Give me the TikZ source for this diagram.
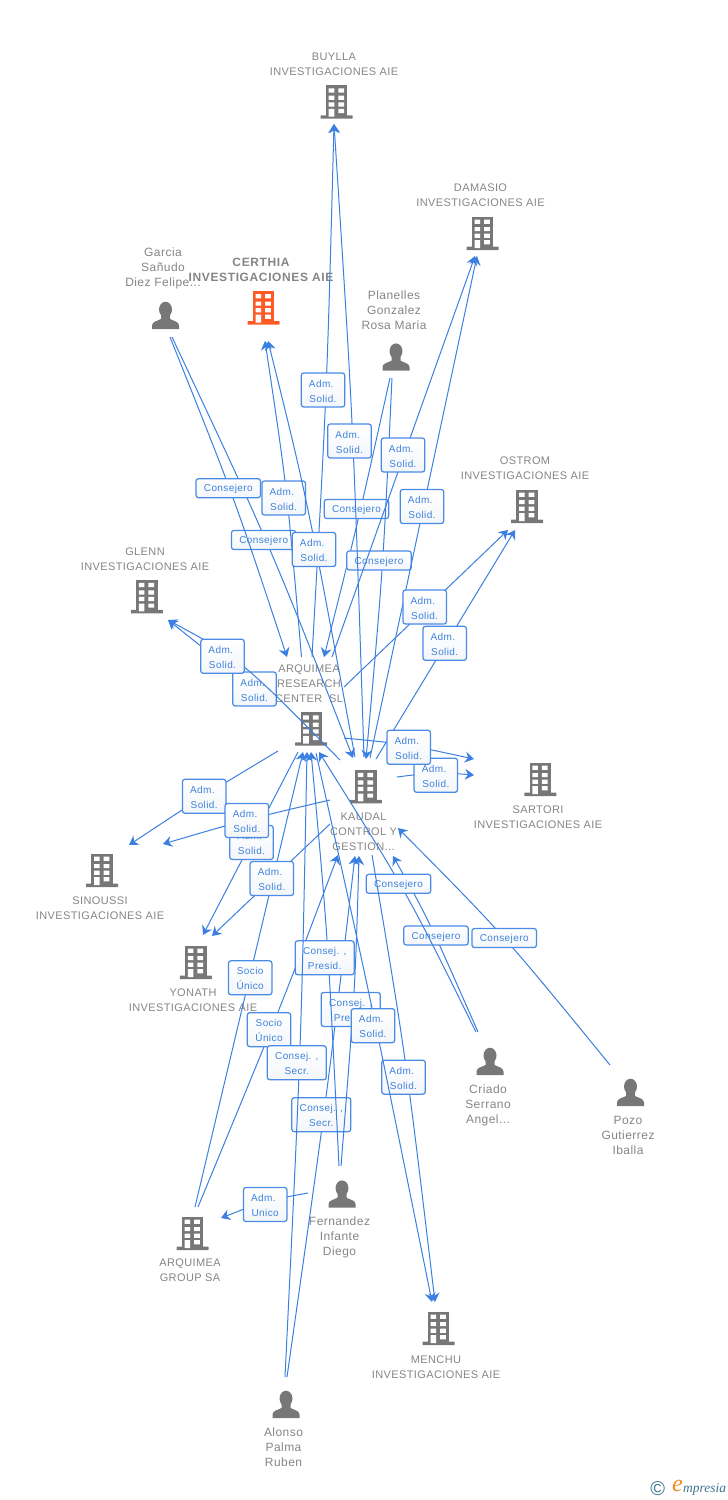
\documentclass[tikz,border=0pt]{standalone}
\usepackage{fontspec}
\usetikzlibrary{arrows.meta,calc}
\setmainfont{Liberation Sans}
\newfontfamily\greyfont[LetterSpace=3.6]{Liberation Sans}
\newfontfamily\personfont[LetterSpace=3.8]{Liberation Sans}
\newfontfamily\boldgreyfont[LetterSpace=5.2,BoldFont={Liberation Sans Bold}]{Liberation Sans}
\newfontfamily\bluefont[LetterSpace=4]{Liberation Sans}
\newfontfamily\logofont{Liberation Serif}
\definecolor{linkblue}{HTML}{3B7FE0}
\definecolor{boxblue}{HTML}{4A8BE6}
\definecolor{textblue}{HTML}{3F82DC}
\definecolor{icongrey}{HTML}{777777}
\definecolor{textgrey}{HTML}{858585}
\definecolor{iconorange}{HTML}{FF5A26}
\definecolor{boxshade}{HTML}{F3F6FA}
\definecolor{logoteal}{HTML}{3F7590}
\definecolor{logoorange}{HTML}{F08A1C}
\newcommand\curveedge[3]{\draw[edge] (#1) .. controls ($1.3333*(#2)-0.16667*(#1)-0.16667*(#3)$) .. (#3);}
\newcommand\admtext{Adm.\hspace*{3.5pt}}
\tikzset{
  x=1pt,y=-1pt,
  edge/.style={draw=linkblue,line width=1pt,-{Stealth[length=9pt,width=11pt,inset=3pt]}},
  linkbox/.style={draw=boxblue,line width=1.25pt,rounded corners=2.5pt,top color=white,bottom color=boxshade,
    inner sep=0pt,align=center,text=textblue,font=\bluefont\fontsize{10}{15}\selectfont},
  admbox/.style={linkbox,minimum width=43.5pt,minimum height=34pt,text height=24.4pt},
  consbox/.style={linkbox,minimum width=64.5pt,minimum height=19pt,text height=9.2pt,text depth=2.1pt},
  presbox/.style={linkbox,minimum width=59pt,minimum height=34pt,text height=24.4pt},
  comp/.style={align=center,text=textgrey,inner sep=0pt,font=\greyfont\fontsize{11}{15}\selectfont},
  compmain/.style={align=center,text=textgrey,inner sep=0pt,font=\boldgreyfont\bfseries\fontsize{12}{15}\selectfont},
  person/.style={align=center,text=textgrey,inner sep=0pt,font=\personfont\fontsize{12}{15}\selectfont},
  pics/bldg/.style={code={
    \fill[#1] (-10.7,-33.5) rectangle (10.7,-2);
    \fill[#1,rounded corners=0.5pt] (-16,-3.4) rectangle (16,0);
    \fill[white] (-8,-30.4) rectangle (-2.4,-26.2) (1.6,-30.4) rectangle (7.3,-26.2)
                 (-8,-23) rectangle (-2.4,-18.8) (1.6,-23) rectangle (7.3,-18.8)
                 (-8,-16.4) rectangle (-2.4,-12.2) (1.6,-16.4) rectangle (7.3,-12.2)
                 (1.6,-9.8) rectangle (7.3,-5.6) (-8,-9.8) rectangle (-2.4,-2);
  }},
  pics/man/.style={code={
    \fill[icongrey] (0,-19.5) ellipse[x radius=6.5,y radius=7.8];
    \fill[icongrey] (-13.5,0) -- (-13.5,-3.5) .. controls (-13.5,-7.5) and (-8,-8) .. (-4.5,-10)
       -- (-4.5,-14) -- (4.5,-14) -- (4.5,-10) .. controls (8,-8) and (13.5,-7.5) .. (13.5,-3.5) -- (13.5,0) -- cycle;
  }},
}
\begin{document}
\begin{tikzpicture}
\useasboundingbox (0,0) rectangle (728,1500);
% icons
\pic at (336.7,118.7) {bldg=icongrey};
\pic at (482.5,250) {bldg=icongrey};
\pic at (263.5,324.5) {bldg=iconorange};
\pic at (527,523) {bldg=icongrey};
\pic at (146.8,613.3) {bldg=icongrey};
\pic at (311.2,745.7) {bldg=icongrey};
\pic at (365.8,803.3) {bldg=icongrey};
\pic at (540.3,796) {bldg=icongrey};
\pic at (102,887) {bldg=icongrey};
\pic at (195.8,979) {bldg=icongrey};
\pic at (192.5,1250) {bldg=icongrey};
\pic at (438.5,1345) {bldg=icongrey};
\pic at (165.5,329) {man};
\pic at (396,370.7) {man};
\pic at (490,1075) {man};
\pic at (630.5,1106) {man};
\pic at (342,1207.7) {man};
\pic at (286,1418) {man};
% entity names
\node[comp] (buylla) at (334,64.5) {BUYLLA\\INVESTIGACIONES AIE};
\node[comp] (damasio) at (480.5,195.5) {DAMASIO\\INVESTIGACIONES AIE};
\node[compmain] (certhia) at (261,270) {CERTHIA\\INVESTIGACIONES AIE};
\node[person] (garcia) at (163,268.3) {Garcia\\Sañudo\\Diez Felipe...};
\node[person] (planelles) at (394,310) {Planelles\\Gonzalez\\Rosa Maria};
\node[comp] (ostrom) at (525,468.5) {OSTROM\\INVESTIGACIONES AIE};
\node[comp] (glenn) at (145,559.5) {GLENN\\INVESTIGACIONES AIE};
\node[comp] (arquimea) at (309,684) {ARQUIMEA\\RESEARCH\\CENTER \ SL};
\node[comp] (kaudal) at (363.5,832) {KAUDAL\\CONTROL Y\\GESTION...};
\node[comp] (sartori) at (538,817.5) {SARTORI\\INVESTIGACIONES AIE};
\node[comp] (sinoussi) at (100,908.5) {SINOUSSI\\INVESTIGACIONES AIE};
\node[comp] (yonath) at (193,1000.2) {YONATH\\INVESTIGACIONES AIE};
\node[person] (criado) at (488,1105) {Criado\\Serrano\\Angel...};
\node[person] (pozo) at (628,1135) {Pozo\\Gutierrez\\Iballa};
\node[person] (fernandez) at (339.5,1237.7) {Fernandez\\Infante\\Diego};
\node[comp] (group) at (190,1270.2) {ARQUIMEA\\GROUP SA};
\node[comp] (menchu) at (436,1366.7) {MENCHU\\INVESTIGACIONES AIE};
\node[person] (alonso) at (283.5,1447) {Alonso\\Palma\\Ruben};
% connector end points
\coordinate (aBuyS) at (312,657); \coordinate (aBuyM) at (326,390); \coordinate (aBuyT) at (334,124);
\coordinate (kBuyS) at (364,757); \coordinate (kBuyM) at (352,423); \coordinate (kBuyT) at (334,124);
\coordinate (aCerS) at (301.5,657); \coordinate (aCerM) at (286,490); \coordinate (aCerT) at (265,341);
\coordinate (kCerS) at (355,757); \coordinate (kCerM) at (308,510); \coordinate (kCerT) at (268,341);
\coordinate (gaArS) at (170,337); \coordinate (gaArM) at (233,498); \coordinate (gaArT) at (287,657);
\coordinate (gaKaS) at (172,337); \coordinate (gaKaM) at (270,550); \coordinate (gaKaT) at (353,758);
\coordinate (plArS) at (390,378); \coordinate (plArM) at (358,520); \coordinate (plArT) at (324,657);
\coordinate (plKaS) at (392,378); \coordinate (plKaM) at (382,570); \coordinate (plKaT) at (366,759);
\coordinate (aDamS) at (332,657); \coordinate (aDamT) at (475,256);
\coordinate (kDamS) at (370,758); \coordinate (kDamT) at (477,256);
\coordinate (aOstS) at (344,687); \coordinate (aOstT) at (508,530);
\coordinate (kOstS) at (376,759); \coordinate (kOstT) at (515,530);
\coordinate (aGleS) at (274,704); \coordinate (aGleT) at (168,620);
\coordinate (kGleS) at (340,760); \coordinate (kGleM) at (244,667); \coordinate (kGleT) at (168,620);
\coordinate (aSarS) at (344,738); \coordinate (aSarM) at (405,745); \coordinate (aSarT) at (474,759);
\coordinate (kSarS) at (397,777); \coordinate (kSarM) at (436,773); \coordinate (kSarT) at (474,775);
\coordinate (aSinS) at (278,751); \coordinate (aSinM) at (204,796); \coordinate (aSinT) at (129,845);
\coordinate (kSinS) at (330,800); \coordinate (kSinM) at (247,820); \coordinate (kSinT) at (163,844);
\coordinate (aYonS) at (298,752); \coordinate (aYonT) at (203,935);
\coordinate (kYonS) at (330,824); \coordinate (kYonT) at (212,936);
\coordinate (grArS) at (195,1207); \coordinate (grArT) at (303,752);
\coordinate (grKaS) at (198,1207); \coordinate (grKaM) at (278,1012); \coordinate (grKaT) at (338,855);
\coordinate (alArS) at (285,1377); \coordinate (alArM) at (300,1047); \coordinate (alArT) at (307,752);
\coordinate (alKaS) at (287,1377); \coordinate (alKaM) at (326,1097); \coordinate (alKaT) at (355,856);
\coordinate (feArS) at (339,1166); \coordinate (feArM) at (327,940); \coordinate (feArT) at (311,752);
\coordinate (feKaS) at (341,1166); \coordinate (feKaM) at (354,992); \coordinate (feKaT) at (359,856);
\coordinate (feGrS) at (308,1193); \coordinate (feGrM) at (265,1202); \coordinate (feGrT) at (221,1218);
\coordinate (aMenS) at (316,753); \coordinate (aMenM) at (372,1008); \coordinate (aMenT) at (432,1302);
\coordinate (kMenS) at (372,855); \coordinate (kMenM) at (405,1060); \coordinate (kMenT) at (435,1302);
\coordinate (crArS) at (476,1032); \coordinate (crArM) at (405,893); \coordinate (crArT) at (319,752);
\coordinate (crKaS) at (478,1032); \coordinate (crKaM) at (430,925); \coordinate (crKaT) at (393,856);
\coordinate (poKaS) at (610,1065); \coordinate (poKaM) at (504,938); \coordinate (poKaT) at (398,828);
% connectors and their boxes
\curveedge{gaKaS}{gaKaM}{gaKaT}
\node[consbox] (l1) at (263.7,540) {Consejero};
\curveedge{gaArS}{gaArM}{gaArT}
\node[consbox] (l2) at (228.3,488.2) {Consejero};
\curveedge{crKaS}{crKaM}{crKaT}
\node[consbox] (l3) at (436,935.5) {Consejero};
\curveedge{crArS}{crArM}{crArT}
\node[consbox] (l4) at (398.5,883.8) {Consejero};
\curveedge{poKaS}{poKaM}{poKaT}
\node[consbox] (l5) at (504.2,938) {Consejero};
\curveedge{plArS}{plArM}{plArT}
\node[consbox] (l6) at (356.5,509) {Consejero};
\curveedge{plKaS}{plKaM}{plKaT}
\node[consbox] (l7) at (379,560.5) {Consejero};
\draw[edge] (aDamS) -- (aDamT);
\node[admbox] (l8) at (403,455) {\admtext\\Solid.};
\curveedge{kBuyS}{kBuyM}{kBuyT}
\node[admbox] (l9) at (349.5,441) {\admtext\\Solid.};
\draw[edge] (kDamS) -- (kDamT);
\node[admbox] (l10) at (422,506.5) {\admtext\\Solid.};
\curveedge{aBuyS}{aBuyM}{aBuyT}
\node[admbox] (l11) at (323,390) {\admtext\\Solid.};
\curveedge{aCerS}{aCerM}{aCerT}
\node[admbox] (l12) at (283.7,498) {\admtext\\Solid.};
\curveedge{kCerS}{kCerM}{kCerT}
\node[admbox] (l13) at (314,549.5) {\admtext\\Solid.};
\draw[edge] (aOstS) -- (aOstT);
\node[admbox] (l14) at (424.7,607) {\admtext\\Solid.};
\draw[edge] (kOstS) -- (kOstT);
\node[admbox] (l15) at (444.7,643.3) {\admtext\\Solid.};
\draw[edge] (aGleS) -- (aGleT);
\node[admbox] (l16) at (254.5,689) {\admtext\\Solid.};
\curveedge{kGleS}{kGleM}{kGleT}
\node[admbox] (l17) at (222.5,656.3) {\admtext\\Solid.};
\curveedge{kSarS}{kSarM}{kSarT}
\node[admbox] (l18) at (435.8,775.3) {\admtext\\Solid.};
\curveedge{aSarS}{aSarM}{aSarT}
\node[admbox] (l19) at (408.7,747.3) {\admtext\\Solid.};
\curveedge{aSinS}{aSinM}{aSinT}
\node[admbox] (l20) at (204.2,796.3) {\admtext\\Solid.};
\draw[edge] (aYonS) -- (aYonT);
\node[admbox] (l21) at (251.5,842.5) {\admtext\\Solid.};
\curveedge{kSinS}{kSinM}{kSinT}
\node[admbox] (l22) at (246.8,820.5) {\admtext\\Solid.};
\draw[edge] (grArS) -- (grArT);
\node[admbox] (l23) at (250.2,977.8) {Socio\\Único};
\draw[edge] (kYonS) -- (kYonT);
\node[admbox] (l24) at (271.8,878.5) {\admtext\\Solid.};
\curveedge{grKaS}{grKaM}{grKaT}
\node[admbox] (l25) at (269,1029.7) {Socio\\Único};
\curveedge{alKaS}{alKaM}{alKaT}
\node[presbox] (l26) at (321.3,1114.7) {Consej. ,\\Secr.};
\curveedge{feKaS}{feKaM}{feKaT}
\node[presbox] (l27) at (350.7,1009.5) {Consej. ,\\Presid.};
\curveedge{kMenS}{kMenM}{kMenT}
\node[admbox] (l28) at (403.5,1077.2) {\admtext\\Solid.};
\curveedge{feArS}{feArM}{feArT}
\node[presbox] (l29) at (324.7,957.8) {Consej. ,\\Presid.};
\curveedge{alArS}{alArM}{alArT}
\node[presbox] (l30) at (296.8,1062.8) {Consej. ,\\Secr.};
\curveedge{aMenS}{aMenM}{aMenT}
\node[admbox] (l31) at (373,1025.7) {\admtext\\Solid.};
\curveedge{feGrS}{feGrM}{feGrT}
\node[admbox] (l32) at (265.2,1204.5) {\admtext\\Unico};
% logo
\node[inner sep=0pt,text=logoteal,font=\fontsize{20}{20}\selectfont] (logoc) at (657.7,1488.5) {©};
\node[inner sep=0pt,text=logoorange,font=\logofont\itshape\fontsize{24}{24}\selectfont] (logoe) at (677.5,1486) {e};
\node[inner sep=0pt,text=logoteal,font=\logofont\itshape\fontsize{13.5}{13.5}\selectfont] (logot) at (704.5,1489) {mpresia};
\end{tikzpicture}
\end{document}
